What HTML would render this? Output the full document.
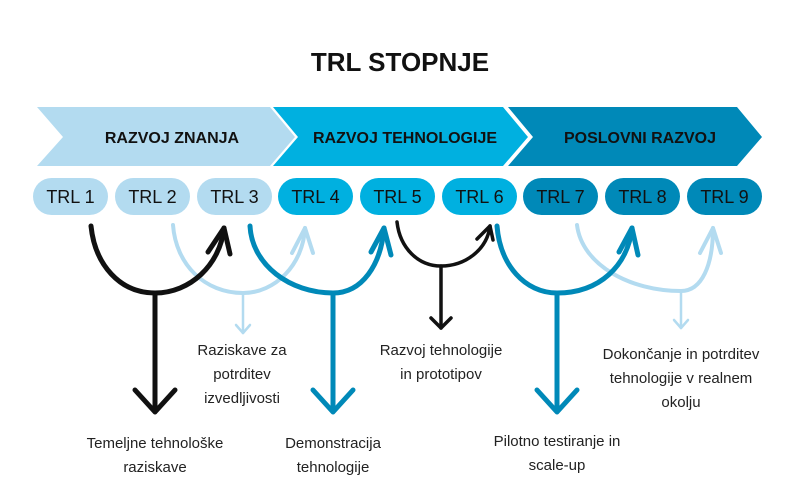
<!DOCTYPE html>
<html><head><meta charset="utf-8"><style>
body{margin:0;background:#fff;}
svg{display:block;font-family:"Liberation Sans",sans-serif;}
</style></head><body>
<svg width="800" height="500" viewBox="0 0 800 500">
<text x="400" y="71" text-anchor="middle" font-size="26" font-weight="bold" fill="#111">TRL STOPNJE</text>
<polygon points="37,107 270,107 295,137 270,166 37,166 63,137" fill="#b3dbf0"/>
<polygon points="273,107 503,107 528,137 503,166 273,166 298,137" fill="#00b0e0"/>
<polygon points="508,107 737,107 762,137 737,166 508,166 533,137" fill="#0089b8"/>
<g font-size="16" font-weight="bold" fill="#111" text-anchor="middle">
<text x="172" y="143">RAZVOJ ZNANJA</text>
<text x="405" y="143">RAZVOJ TEHNOLOGIJE</text>
<text x="640" y="143">POSLOVNI RAZVOJ</text>
</g>
<g font-size="18" fill="#111" text-anchor="middle">
<rect x="33" y="178" width="75" height="37" rx="18.5" fill="#b3dbf0"/><text x="70.5" y="203">TRL 1</text>
<rect x="115" y="178" width="75" height="37" rx="18.5" fill="#b3dbf0"/><text x="152.5" y="203">TRL 2</text>
<rect x="197" y="178" width="75" height="37" rx="18.5" fill="#b3dbf0"/><text x="234.5" y="203">TRL 3</text>
<rect x="278" y="178" width="75" height="37" rx="18.5" fill="#00b0e0"/><text x="315.5" y="203">TRL 4</text>
<rect x="360" y="178" width="75" height="37" rx="18.5" fill="#00b0e0"/><text x="397.5" y="203">TRL 5</text>
<rect x="442" y="178" width="75" height="37" rx="18.5" fill="#00b0e0"/><text x="479.5" y="203">TRL 6</text>
<rect x="523" y="178" width="75" height="37" rx="18.5" fill="#0089b8"/><text x="560.5" y="203">TRL 7</text>
<rect x="605" y="178" width="75" height="37" rx="18.5" fill="#0089b8"/><text x="642.5" y="203">TRL 8</text>
<rect x="687" y="178" width="75" height="37" rx="18.5" fill="#0089b8"/><text x="724.5" y="203">TRL 9</text>
</g>
<g fill="none" stroke-linecap="round" stroke-linejoin="round">
<g stroke="#b3dbf0" stroke-width="4">
<path d="M173,225 C176,265 205,293 243,293 C275,293 303,265 305,228"/>
<polyline points="292,253 305,228 313,253"/>
<line x1="243" y1="293" x2="243" y2="333" stroke-width="2.5"/>
<polyline points="236,325 243,333 250,325" stroke-width="2.5"/>
<path d="M577,225 C582,265 630,291 681,291 C702,291 713,265 713,228"/>
<polyline points="700,253 713,228 721,253"/>
<line x1="681" y1="291" x2="681" y2="328" stroke-width="2.5"/>
<polyline points="674,320 681,328 688,320" stroke-width="2.5"/>
</g>
<g stroke="#111" stroke-width="5">
<path d="M91,226 C95,265 120,293 155,293 C190,293 220,265 224,228"/>
<polyline points="208,252 224,228 230,254"/>
<line x1="155" y1="293" x2="155" y2="410"/>
<polyline points="135,390 155,412 175,390"/>
</g>
<g stroke="#111" stroke-width="3.5">
<path d="M397,222 C400,248 418,266 441,266 C465,266 487,250 490,226"/>
<polyline points="477,239 490,226 493,240"/>
<line x1="441" y1="266" x2="441" y2="328"/>
<polyline points="431,318 441,328 451,318"/>
</g>
<g stroke="#0089b8" stroke-width="5">
<path d="M250,226 C252,265 290,293 333,293 C362,293 381,265 384,228"/>
<polyline points="371,252 384,228 391,255"/>
<line x1="333" y1="293" x2="333" y2="410"/>
<polyline points="313,390 333,412 353,390"/>
<path d="M497,226 C500,265 525,293 557,293 C600,293 628,265 632,228"/>
<polyline points="619,252 632,228 638,255"/>
<line x1="557" y1="293" x2="557" y2="410"/>
<polyline points="537,390 557,412 577,390"/>
</g>
</g>
<g font-size="15" fill="#222" text-anchor="middle">
<text x="155" y="448">Temeljne tehnološke</text><text x="155" y="472">raziskave</text>
<text x="242" y="355">Raziskave za</text><text x="242" y="379">potrditev</text><text x="242" y="403">izvedljivosti</text>
<text x="333" y="448">Demonstracija</text><text x="333" y="472">tehnologije</text>
<text x="441" y="355">Razvoj tehnologije</text><text x="441" y="379">in prototipov</text>
<text x="557" y="446">Pilotno testiranje in</text><text x="557" y="470">scale-up</text>
<text x="681" y="359">Dokončanje in potrditev</text><text x="681" y="383">tehnologije v realnem</text><text x="681" y="407">okolju</text>
</g>
</svg>
</body></html>
